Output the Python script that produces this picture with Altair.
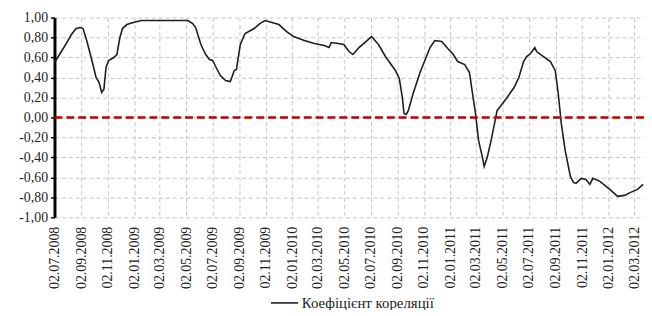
import altair as alt
import pandas as pd

dates = [
    "2008-07-02", "2008-07-18", "2008-07-29", "2008-08-10", "2008-08-21", "2008-08-30",
    "2008-09-06", "2008-09-15", "2008-09-27", "2008-10-06", "2008-10-13", "2008-10-19",
    "2008-10-24", "2008-10-29", "2008-11-04", "2008-11-16", "2008-11-23", "2008-11-30",
    "2008-12-06", "2008-12-16", "2008-12-31", "2009-01-19", "2009-02-27", "2009-04-02",
    "2009-05-06", "2009-05-17", "2009-05-24", "2009-05-31", "2009-06-05", "2009-06-16",
    "2009-06-25", "2009-07-02", "2009-07-09", "2009-07-20", "2009-08-01", "2009-08-12",
    "2009-08-21", "2009-08-26", "2009-09-04", "2009-09-15", "2009-10-06", "2009-10-19",
    "2009-10-31", "2009-11-16", "2009-12-02", "2009-12-20", "2010-01-05", "2010-01-30",
    "2010-02-22", "2010-03-17", "2010-03-28", "2010-04-02", "2010-04-18", "2010-05-01",
    "2010-05-13", "2010-05-22", "2010-06-05", "2010-06-21", "2010-07-04", "2010-07-20",
    "2010-08-05", "2010-08-28", "2010-09-06", "2010-09-13", "2010-09-17", "2010-09-22",
    "2010-09-27", "2010-10-08", "2010-10-24", "2010-11-04", "2010-11-16", "2010-11-27",
    "2010-12-13", "2010-12-27", "2011-01-07", "2011-01-19", "2011-02-04", "2011-02-15",
    "2011-02-22", "2011-03-01", "2011-03-08", "2011-03-17", "2011-03-21", "2011-03-28",
    "2011-04-06", "2011-04-13", "2011-04-20", "2011-04-29", "2011-05-13", "2011-05-29",
    "2011-06-09", "2011-06-20", "2011-06-27", "2011-07-06", "2011-07-16", "2011-07-20",
    "2011-08-05", "2011-08-21", "2011-09-01", "2011-09-08", "2011-09-15", "2011-09-24",
    "2011-10-06", "2011-10-13", "2011-10-19", "2011-10-31", "2011-11-11", "2011-11-20",
    "2011-11-27", "2011-12-13", "2012-01-05", "2012-01-23", "2012-02-08", "2012-02-22",
    "2012-03-09", "2012-03-22",
]
values = [
    0.55, 0.66, 0.74, 0.83, 0.89, 0.90,
    0.89, 0.76, 0.56, 0.40, 0.35, 0.25,
    0.28, 0.50, 0.57, 0.60, 0.63, 0.80,
    0.89, 0.93, 0.95, 0.97, 0.97, 0.97,
    0.97, 0.94, 0.90, 0.80, 0.73, 0.63,
    0.58, 0.57, 0.51, 0.42, 0.37, 0.36,
    0.47, 0.48, 0.73, 0.84, 0.89, 0.94,
    0.97, 0.95, 0.93, 0.86, 0.81, 0.77,
    0.74, 0.72, 0.70, 0.75, 0.74, 0.73,
    0.66, 0.63, 0.70, 0.76, 0.81, 0.73,
    0.61, 0.47, 0.39, 0.20, 0.04, 0.03,
    0.07, 0.24, 0.45, 0.57, 0.70, 0.77,
    0.76, 0.69, 0.64, 0.56, 0.53, 0.45,
    0.24, 0.04, -0.23, -0.40, -0.49, -0.40,
    -0.23, -0.08, 0.07, 0.12, 0.20, 0.30,
    0.40, 0.56, 0.61, 0.64, 0.70, 0.66,
    0.61, 0.56, 0.47, 0.24, -0.06, -0.33,
    -0.59, -0.65, -0.66, -0.61, -0.62, -0.67,
    -0.61, -0.64, -0.72, -0.79, -0.78, -0.75,
    -0.72, -0.67,
]
tick_dates = [
    "2008-07-02", "2008-09-02", "2008-11-02", "2009-01-02", "2009-03-02", "2009-05-02",
    "2009-07-02", "2009-09-02", "2009-11-02", "2010-01-02", "2010-03-02", "2010-05-02",
    "2010-07-02", "2010-09-02", "2010-11-02", "2011-01-02", "2011-03-02", "2011-05-02",
    "2011-07-02", "2011-09-02", "2011-11-02", "2012-01-02", "2012-03-02",
]
y_ticks = [-1.0, -0.8, -0.6, -0.4, -0.2, 0.0, 0.2, 0.4, 0.6, 0.8, 1.0]
x_domain = ["2008-07-02", "2012-03-24"]
series_name = "Коефіцієнт кореляції"
zero_level = [0.0]


def to_dt(s):
    y, m, d = (int(p) for p in s.split("-"))
    return alt.DateTime(year=y, month=m, date=d, utc=True)


FONT = "Times New Roman, Liberation Serif, serif"

df = pd.DataFrame({"date": dates, "value": values, "series": series_name})
zero_df = pd.DataFrame({"value": zero_level})

y_scale = alt.Scale(domain=[-1, 1], nice=False, zero=False)
y_axis = alt.Axis(
    values=y_ticks,
    labelExpr="replace(replace(format(datum.value, '.2f'), '.', ','), '\u2212', '-')",
    labelFont=FONT,
    labelFontSize=14,
    labelColor="#222222",
    labelPadding=3,
    labelOverlap=False,
    labelFlush=False,
    labelBound=False,
    domain=True,
    domainColor="#000000",
    domainWidth=3,
    ticks=True,
    tickColor="#000000",
    tickSize=4,
    tickWidth=1.5,
    grid=True,
    gridDash=[4, 3],
    gridColor="#c4c4c4",
    title=None,
)

x_enc = alt.X(
    "date:T",
    scale=alt.Scale(type="utc", domain=[to_dt(d) for d in x_domain]),
    axis=alt.Axis(
        values=[to_dt(t) for t in tick_dates],
        labelExpr="utcFormat(datum.value, '%d.%m.%Y')",
        labelAngle=270,
        labelFont=FONT,
        labelFontSize=14,
        labelColor="#222222",
        labelPadding=9,
        domain=False,
        ticks=False,
        grid=True,
        gridDash=[4, 3],
        gridColor="#c4c4c4",
        title=None,
        labelOverlap=False,
    ),
)

line = alt.Chart(df).mark_line(strokeWidth=1.6).encode(
    x=x_enc,
    y=alt.Y("value:Q", scale=y_scale, axis=y_axis),
    color=alt.Color(
        "series:N",
        scale=alt.Scale(range=["#1e1e1e"]),
        legend=alt.Legend(
            orient="none",
            legendX=218,
            legendY=274,
            title=None,
            symbolType="stroke",
            symbolSize=750,
            symbolStrokeWidth=1.6,
            labelFont=FONT,
            labelFontSize=15,
            labelColor="#222222",
            labelOffset=3,
            padding=0,
        ),
    ),
)

zero_rule = alt.Chart(zero_df).mark_rule(
    color="#c00000", strokeWidth=2.6, strokeDash=[8, 4]
).encode(y=alt.Y("value:Q", scale=y_scale, axis=y_axis))

chart = (
    alt.layer(line, zero_rule)
    .properties(
        width=596,
        height=202,
        autosize=alt.AutoSizeParams(type="none"),
        padding={"left": 47, "top": 8, "right": 0, "bottom": 92},
        background="#ffffff",
    )
    .configure_view(stroke=None)
    .configure_axisY(labelOverlap=False)
)

chart.save("out.html", embed_options={"renderer": "svg", "actions": False})
